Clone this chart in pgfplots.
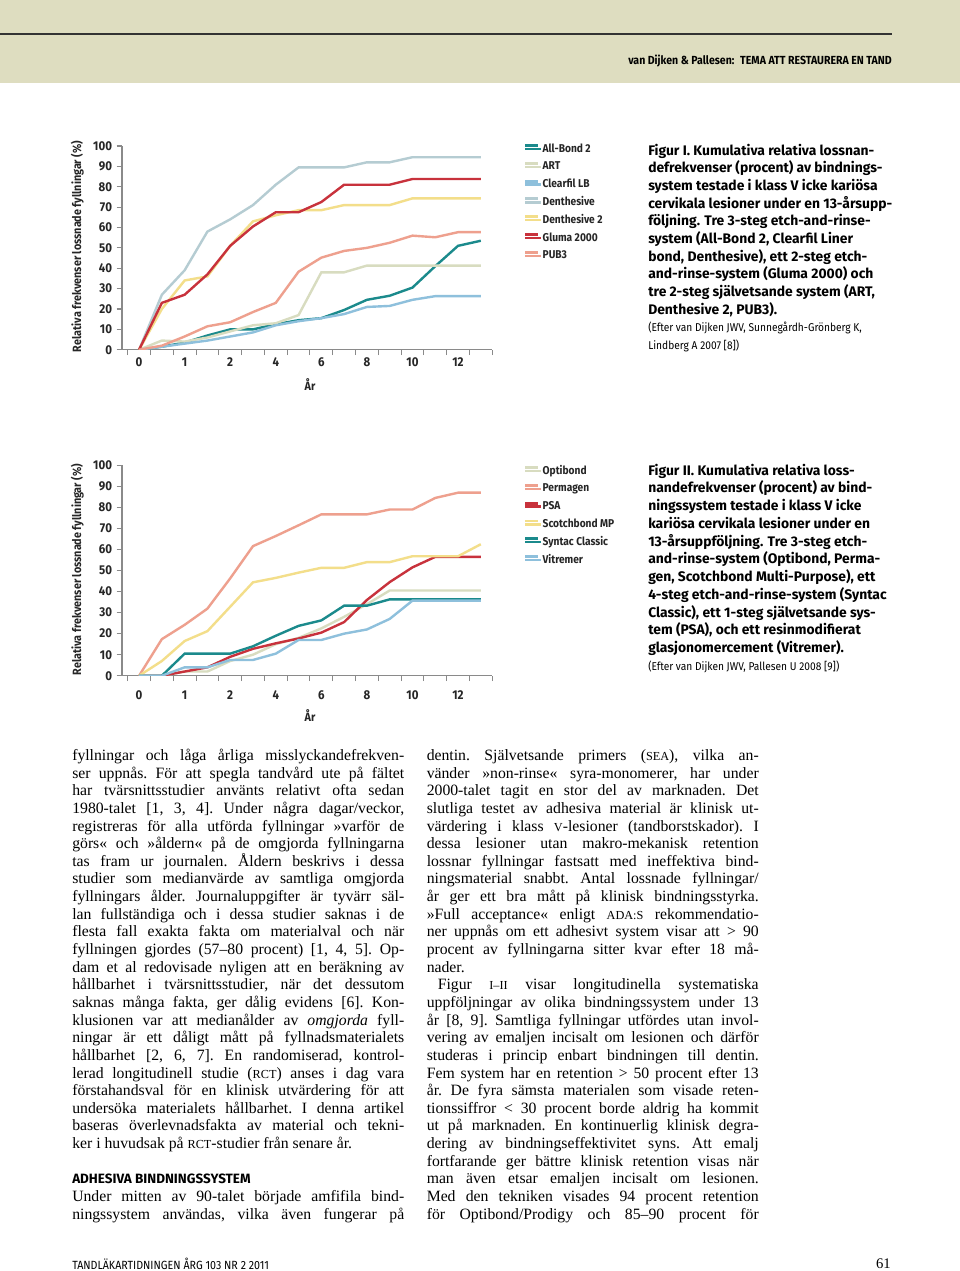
\documentclass[border=0pt]{standalone}
\usepackage{pgfplots}
\pgfplotsset{compat=1.18}
\usepackage{pgfplotstable}
\usepackage{fontspec}
\setmainfont{Liberation Serif}
\newfontfamily\fira{Fira Sans}[FakeStretch=0.9]
\newfontfamily\firaw{Fira Sans}
\definecolor{cteal}{HTML}{1B8A8C}
\definecolor{cart}{HTML}{D8DCC0}
\definecolor{cclb}{HTML}{8EC0DC}
\definecolor{cden}{HTML}{B5CCD2}
\definecolor{cyel}{HTML}{F3DE8A}
\definecolor{cred}{HTML}{C8323C}
\definecolor{csal}{HTML}{EEA08E}
\definecolor{chdr}{HTML}{DEDDC0}
\definecolor{caxis}{HTML}{8A8A8A}

\pgfplotstableread{
x AB ART CLB DEN DENB GLU PUB
0 0 0 0 0 0 0 0
1 1.5 4.5 1.5 27 20 23 2
2 3.5 4 3 39 34 27 6.5
3 7 6 4.5 58 36 37 11.5
4 10 9 6.5 64 51 51 13.5
5 10 12 8.5 71 63 60.5 18.5
6 12.5 13 12 81 66 67.5 23
7 14.5 17 14 89.5 68.5 67.5 38.3
8 15.5 38 15.5 89.5 68.5 72.5 45.2
9 19.5 38 17.5 89.5 71 81 48.5
10 24.5 41.3 21 92 71 81 50
11 26.5 41.3 21.5 92 71 81 52.5
12 30.5 41.3 24.5 94.5 74.3 83.8 56
13 41 41.3 26.3 94.5 74.3 83.8 55.2
14 51 41.3 26.3 94.5 74.3 83.8 57.7
15 53.5 41.3 26.3 94.5 74.3 83.8 57.7
}\tabA

\pgfplotstableread{
x OPT PER PSA SMP SYN VIT
0 0 0 0 0 0 0
1 0 17.4 0 7 0 0
2 2 24.2 2 16.5 10.5 4
3 2 31.9 4 21.2 10.5 4
4 7 46.3 9 32.8 10.5 7.5
5 10 61.6 12.8 44.4 14 7.5
6 15 66.4 15.4 46.5 19 10.5
7 18 71.5 17.7 49 23.7 17
8 22.5 76.7 20.5 51.3 26.3 17
9 28 76.7 25.5 51.3 33.3 20
10 34 76.7 36 54 33.3 22
11 40.5 79 44.5 54 36.3 27
12 40.5 79 51.5 56.8 36.3 35.7
13 40.5 84.5 56.5 56.8 36.3 35.7
14 40.5 87 56.5 56.8 36.3 35.7
15 40.5 87 56.5 62.5 36.3 35.7
}\tabB

\newcommand\bodyfont{\fontsize{11.8}{13}\selectfont\frenchspacing}
\newcommand\smc[1]{{\fontsize{9.2}{10}\selectfont #1}}
\newcommand\JL[3]{\node[anchor=base west,inner sep=0pt,font=\bodyfont] at (#1,{760.5+17.64*(#2-1)}) {\makebox[249pt][s]{#3}};}
\newcommand\NL[3]{\node[anchor=base west,inner sep=0pt,font=\bodyfont] at (#1,{760.5+17.64*(#2-1)}) {#3};}
\newcommand\CAP[2]{\node[anchor=base west,inner sep=0pt,font=\firaw\bfseries\fontsize{10.4}{12}\selectfont] at (648,#1) {#2};}
\newcommand\SRC[2]{\node[anchor=base west,inner sep=0pt,font=\fira\fontsize{8.5}{10}\selectfont] at (648,#1) {#2};}

\pgfplotsset{
  mychart/.style={
    scale only axis, width=277.65pt,
    xmin=-0.75, xmax=15.5, ymin=0, ymax=100,
    axis x line*=bottom, axis y line*=left,
    axis line style={-, draw=caxis, line width=0.8pt},
    xtick={-0.5,0.5,...,15.5}, xticklabels={},
    extra x ticks={0,2,4,6,8,10,12,14},
    extra x tick labels={0,1,2,4,6,8,10,12},
    extra x tick style={major tick length=0pt, tick style={draw=none}},
    ytick={0,10,...,100},
    tick align=outside, major tick length=4pt,
    tick style={draw=caxis, line width=0.8pt},
    /pgf/number format/assume math mode=true,
    ticklabel style={font=\fira\bfseries\fontsize{9.6}{10}\selectfont, text=black!85},
    yticklabel style={anchor=east, inner sep=0pt, xshift=-3.3pt},
    xticklabel style={anchor=north, inner sep=0pt},
    label style={font=\fira\bfseries\fontsize{9}{10}\selectfont, text=black!85},
    legend style={draw=none, fill=none, inner sep=0pt, outer sep=0pt,
      anchor=north west, row sep=5.85pt,
      font=\fira\bfseries\fontsize{8.5}{9.6}\selectfont,
      nodes={inner sep=0pt, text height=6pt, text depth=1.5pt, text=black!85},
      legend cell align=left},
    legend image code/.code={\draw[#1, line width=2.2pt] (0pt,2.6pt) -- (9.5pt,2.6pt); \path (0pt,0pt) -- (12pt,0pt);},
    every axis plot/.append style={line width=1.8pt, mark=none},
  }
}

\begin{document}
\begin{tikzpicture}
\useasboundingbox (0,0) rectangle (720pt,-953.25pt);
\fill[white] (0,0) rectangle (720pt,-953.25pt);
\begin{scope}[x=0.75pt,y=-0.75pt]
\fill[chdr] (0,0) rectangle (960,83);
\draw[line width=1.1pt, black!80] (0,34) -- (892,34);
\node[anchor=base east, inner sep=0pt, font=\fira\fontsize{8.8}{10}\selectfont] at (892,64) {\bfseries van Dijken \& Pallesen: \ TEMA ATT RESTAURERA EN TAND};

% captions
\CAP{155.0}{Figur I. Kumulativa relativa lossnan-}
\CAP{172.7}{defrekvenser (procent) av bindnings-}
\CAP{190.4}{system testade i klass V icke kariösa}
\CAP{208.1}{cervikala lesioner under en 13-årsupp-}
\CAP{225.8}{följning. Tre 3-steg etch-and-rinse-}
\CAP{243.5}{system (All-Bond 2, Clearfil Liner}
\CAP{261.2}{bond, Denthesive), ett 2-steg etch-}
\CAP{278.9}{and-rinse-system (Gluma 2000) och}
\CAP{296.6}{tre 2-steg självetsande system (ART,}
\CAP{314.3}{Denthesive 2, PUB3).}
\SRC{331.5}{(Efter van Dijken JWV, Sunnegårdh-Grönberg K,}
\SRC{349.5}{Lindberg A 2007 [8])}

\CAP{475.0}{Figur II. Kumulativa relativa loss-}
\CAP{492.8}{nandefrekvenser (procent) av bind-}
\CAP{510.5}{ningssystem testade i klass V icke}
\CAP{528.3}{kariösa cervikala lesioner under en}
\CAP{546.1}{13-årsuppföljning. Tre 3-steg etch-}
\CAP{563.9}{and-rinse-system (Optibond, Perma-}
\CAP{581.6}{gen, Scotchbond Multi-Purpose), ett}
\CAP{599.4}{4-steg etch-and-rinse-system (Syntac}
\CAP{617.2}{Classic), ett 1-steg självetsande sys-}
\CAP{634.9}{tem (PSA), och ett resinmodifierat}
\CAP{652.7}{glasjonomercement (Vitremer).}
\SRC{670.5}{(Efter van Dijken JWV, Pallesen U 2008 [9])}

% left column
\JL{72}{1}{fyllningar och låga årliga misslyckandefrekven-}
\JL{72}{2}{ser uppnås. För att spegla tandvård ute på fältet}
\JL{72}{3}{har tvärsnittsstudier använts relativt ofta sedan}
\JL{72}{4}{1980-talet [1, 3, 4]. Under några dagar/veckor,}
\JL{72}{5}{registreras för alla utförda fyllningar »varför de}
\JL{72}{6}{görs« och »åldern« på de omgjorda fyllningarna}
\JL{72}{7}{tas fram ur journalen. Åldern beskrivs i dessa}
\JL{72}{8}{studier som medianvärde av samtliga omgjorda}
\JL{72}{9}{fyllningars ålder. Journaluppgifter är tyvärr säl-}
\JL{72}{10}{lan fullständiga och i dessa studier saknas i de}
\JL{72}{11}{flesta fall exakta fakta om materialval och när}
\JL{72}{12}{fyllningen gjordes (57–80 procent) [1, 4, 5]. Op-}
\JL{72}{13}{dam et al redovisade nyligen att en beräkning av}
\JL{72}{14}{hållbarhet i tvärsnittsstudier, när det dessutom}
\JL{72}{15}{saknas många fakta, ger dålig evidens [6]. Kon-}
\JL{72}{16}{klusionen var att medianålder av \textit{omgjorda} fyll-}
\JL{72}{17}{ningar är ett dåligt mått på fyllnadsmaterialets}
\JL{72}{18}{hållbarhet [2, 6, 7]. En randomiserad, kontrol-}
\JL{72}{19}{lerad longitudinell studie (\smc{RCT}) anses i dag vara}
\JL{72}{20}{förstahandsval för en klinisk utvärdering för att}
\JL{72}{21}{undersöka materialets hållbarhet. I denna artikel}
\JL{72}{22}{baseras överlevnadsfakta av material och tekni-}
\NL{72}{23}{ker i huvudsak på \smc{RCT}-studier från senare år.}
\node[anchor=base west, inner sep=0pt, font=\firaw\bfseries\fontsize{10.1}{11}\selectfont] at (72,{760.5+17.64*24}) {ADHESIVA BINDNINGSSYSTEM};
\JL{72}{26}{Under mitten av 90-talet började amfifila bind-}
\JL{72}{27}{ningssystem användas, vilka även fungerar på}

% right column
\JL{426.5}{1}{dentin. Självetsande primers (\smc{SEA}), vilka an-}
\JL{426.5}{2}{vänder »non-rinse« syra-monomerer, har under}
\JL{426.5}{3}{2000-talet tagit en stor del av marknaden. Det}
\JL{426.5}{4}{slutliga testet av adhesiva material är klinisk ut-}
\JL{426.5}{5}{värdering i klass \smc{V}-lesioner (tandborstskador). I}
\JL{426.5}{6}{dessa lesioner utan makro-mekanisk retention}
\JL{426.5}{7}{lossnar fyllningar fastsatt med ineffektiva bind-}
\JL{426.5}{8}{ningsmaterial snabbt. Antal lossnade fyllningar/}
\JL{426.5}{9}{år ger ett bra mått på klinisk bindningsstyrka.}
\JL{426.5}{10}{»Full acceptance« enligt \smc{ADA:S} rekommendatio-}
\JL{426.5}{11}{ner uppnås om ett adhesivt system visar att > 90}
\JL{426.5}{12}{procent av fyllningarna sitter kvar efter 18 må-}
\NL{426.5}{13}{nader.}
\node[anchor=base west,inner sep=0pt,font=\bodyfont] at (437.5,{760.5+17.64*13}) {\makebox[240.7pt][s]{Figur \smc{I–II} visar longitudinella systematiska}};
\JL{426.5}{15}{uppföljningar av olika bindningssystem under 13}
\JL{426.5}{16}{år [8, 9]. Samtliga fyllningar utfördes utan invol-}
\JL{426.5}{17}{vering av emaljen incisalt om lesionen och därför}
\JL{426.5}{18}{studeras i princip enbart bindningen till dentin.}
\JL{426.5}{19}{Fem system har en retention > 50 procent efter 13}
\JL{426.5}{20}{år. De fyra sämsta materialen som visade reten-}
\JL{426.5}{21}{tionssiffror < 30 procent borde aldrig ha kommit}
\JL{426.5}{22}{ut på marknaden. En kontinuerlig klinisk degra-}
\JL{426.5}{23}{dering av bindningseffektivitet syns. Att emalj}
\JL{426.5}{24}{fortfarande ger bättre klinisk retention visas när}
\JL{426.5}{25}{man även etsar emaljen incisalt om lesionen.}
\JL{426.5}{26}{Med den tekniken visades 94 procent retention}
\JL{426.5}{27}{för Optibond/Prodigy och 85–90 procent för}

% footer
\node[anchor=base west, inner sep=0pt, font=\fira\fontsize{8.9}{9}\selectfont] at (72,1269) {TANDLÄKARTIDNINGEN ÅRG 103 NR 2 2011};
\node[anchor=base east, inner sep=0pt, font=\fontsize{11}{12}\selectfont] at (891,1268) {61};
\end{scope}

% chart I
\begin{axis}[mychart, at={(91.5pt,-262.3pt)}, anchor=south west, height=152.8pt,
  xticklabel style={yshift=-6pt},
  xlabel={År}, ylabel={Relativa frekvenser lossnade fyllningar (\%)},
  xlabel style={at={(axis description cs:0.508,-0.173)}, anchor=center},
  ylabel style={at={(axis description cs:-0.1207,0.507)}, anchor=center, rotate=0},
  legend style={at={(axis description cs:1.0859,1.0098)}}]
\addplot[cteal] table[x=x,y=AB]{\tabA}; \addlegendentry{All-Bond 2}
\addplot[cart] table[x=x,y=ART]{\tabA}; \addlegendentry{ART}
\addplot[cclb] table[x=x,y=CLB]{\tabA}; \addlegendentry{Clearfil LB}
\addplot[cden] table[x=x,y=DEN]{\tabA}; \addlegendentry{Denthesive}
\addplot[cyel] table[x=x,y=DENB]{\tabA}; \addlegendentry{Denthesive 2}
\addplot[cred] table[x=x,y=GLU]{\tabA}; \addlegendentry{Gluma 2000}
\addplot[csal] table[x=x,y=PUB]{\tabA}; \addlegendentry{PUB3}
\end{axis}

% chart II
\begin{axis}[mychart, at={(91.5pt,-506.8pt)}, anchor=south west, height=157.8pt,
  xticklabel style={yshift=-11pt},
  xlabel={År}, ylabel={Relativa frekvenser lossnade fyllningar (\%)},
  xlabel style={at={(axis description cs:0.508,-0.190)}, anchor=center},
  ylabel style={at={(axis description cs:-0.1207,0.505)}, anchor=center, rotate=0},
  legend style={at={(axis description cs:1.0859,0.9967)}}]
\addplot[cart] table[x=x,y=OPT]{\tabB}; \addlegendentry{Optibond}
\addplot[csal] table[x=x,y=PER]{\tabB}; \addlegendentry{Permagen}
\addplot[cred] table[x=x,y=PSA]{\tabB}; \addlegendentry{PSA}
\addplot[cyel] table[x=x,y=SMP]{\tabB}; \addlegendentry{Scotchbond MP}
\addplot[cteal] table[x=x,y=SYN]{\tabB}; \addlegendentry{Syntac Classic}
\addplot[cclb] table[x=x,y=VIT]{\tabB}; \addlegendentry{Vitremer}
\end{axis}
\end{tikzpicture}
\end{document}
